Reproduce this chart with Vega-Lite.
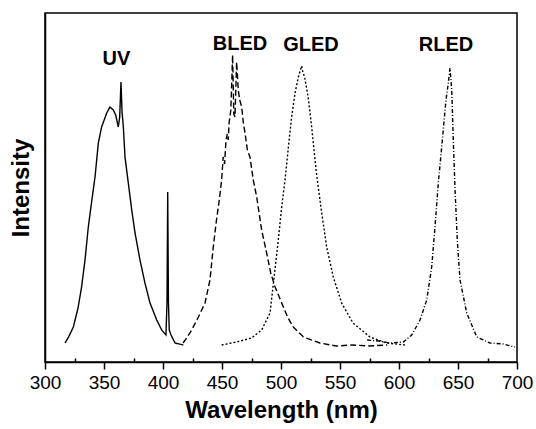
{
  "$schema": "https://vega.github.io/schema/vega-lite/v6.json",
  "width": 472,
  "height": 349,
  "autosize": {"type": "none"},
  "padding": {"left": 45, "top": 13, "right": 19, "bottom": 67},
  "background": "white",
  "config": {"view": {"stroke": "black", "strokeWidth": 1.5}, "font": "Liberation Sans"},
  "datasets": {
    "spectra": [
      {"series": "UV", "wl": 317, "inten": 19},
      {"series": "UV", "wl": 320, "inten": 25},
      {"series": "UV", "wl": 324, "inten": 35},
      {"series": "UV", "wl": 328, "inten": 54},
      {"series": "UV", "wl": 331, "inten": 75},
      {"series": "UV", "wl": 334, "inten": 103},
      {"series": "UV", "wl": 336.7, "inten": 135},
      {"series": "UV", "wl": 339.5, "inten": 160},
      {"series": "UV", "wl": 342.4, "inten": 185},
      {"series": "UV", "wl": 345.2, "inten": 219},
      {"series": "UV", "wl": 348, "inten": 235},
      {"series": "UV", "wl": 352.3, "inten": 249},
      {"series": "UV", "wl": 355, "inten": 255},
      {"series": "UV", "wl": 357.9, "inten": 252},
      {"series": "UV", "wl": 359.9, "inten": 247},
      {"series": "UV", "wl": 362.1, "inten": 235},
      {"series": "UV", "wl": 363.3, "inten": 245},
      {"series": "UV", "wl": 364.4, "inten": 280},
      {"series": "UV", "wl": 365.3, "inten": 250},
      {"series": "UV", "wl": 366.4, "inten": 235},
      {"series": "UV", "wl": 367.8, "inten": 205},
      {"series": "UV", "wl": 370.6, "inten": 179},
      {"series": "UV", "wl": 373.5, "inten": 152},
      {"series": "UV", "wl": 376.3, "inten": 129},
      {"series": "UV", "wl": 380.5, "inten": 102},
      {"series": "UV", "wl": 384.7, "inten": 79},
      {"series": "UV", "wl": 389, "inten": 59},
      {"series": "UV", "wl": 394.7, "inten": 42},
      {"series": "UV", "wl": 398.9, "inten": 32},
      {"series": "UV", "wl": 402.5, "inten": 27},
      {"series": "UV", "wl": 403.4, "inten": 60},
      {"series": "UV", "wl": 404, "inten": 170},
      {"series": "UV", "wl": 404.6, "inten": 60},
      {"series": "UV", "wl": 405.3, "inten": 32},
      {"series": "UV", "wl": 406.8, "inten": 27},
      {"series": "UV", "wl": 410.2, "inten": 19},
      {"series": "UV", "wl": 417.2, "inten": 17},
      {"series": "BLED", "wl": 417, "inten": 19},
      {"series": "BLED", "wl": 420, "inten": 24},
      {"series": "BLED", "wl": 424.3, "inten": 32},
      {"series": "BLED", "wl": 430, "inten": 45},
      {"series": "BLED", "wl": 435.6, "inten": 59},
      {"series": "BLED", "wl": 439.8, "inten": 82},
      {"series": "BLED", "wl": 442.6, "inten": 115},
      {"series": "BLED", "wl": 445, "inten": 139},
      {"series": "BLED", "wl": 447.7, "inten": 162},
      {"series": "BLED", "wl": 449.7, "inten": 182},
      {"series": "BLED", "wl": 451, "inten": 205},
      {"series": "BLED", "wl": 452.2, "inten": 198},
      {"series": "BLED", "wl": 453.4, "inten": 222},
      {"series": "BLED", "wl": 454.5, "inten": 228},
      {"series": "BLED", "wl": 455.3, "inten": 222},
      {"series": "BLED", "wl": 456, "inten": 239},
      {"series": "BLED", "wl": 457.5, "inten": 252},
      {"series": "BLED", "wl": 459, "inten": 307},
      {"series": "BLED", "wl": 460, "inten": 248},
      {"series": "BLED", "wl": 461, "inten": 245},
      {"series": "BLED", "wl": 462.4, "inten": 300},
      {"series": "BLED", "wl": 463.8, "inten": 272},
      {"series": "BLED", "wl": 465, "inten": 262},
      {"series": "BLED", "wl": 466.7, "inten": 255},
      {"series": "BLED", "wl": 468, "inten": 240},
      {"series": "BLED", "wl": 469.5, "inten": 229},
      {"series": "BLED", "wl": 471.5, "inten": 212},
      {"series": "BLED", "wl": 473.7, "inten": 205},
      {"series": "BLED", "wl": 476.5, "inten": 182},
      {"series": "BLED", "wl": 479.4, "inten": 165},
      {"series": "BLED", "wl": 483.6, "inten": 132},
      {"series": "BLED", "wl": 487.3, "inten": 112},
      {"series": "BLED", "wl": 491.3, "inten": 89},
      {"series": "BLED", "wl": 495, "inten": 75},
      {"series": "BLED", "wl": 502, "inten": 55},
      {"series": "BLED", "wl": 506, "inten": 44},
      {"series": "BLED", "wl": 510.4, "inten": 35},
      {"series": "BLED", "wl": 519, "inten": 25},
      {"series": "BLED", "wl": 533, "inten": 19},
      {"series": "BLED", "wl": 547, "inten": 16},
      {"series": "BLED", "wl": 560, "inten": 17},
      {"series": "BLED", "wl": 575, "inten": 16},
      {"series": "BLED", "wl": 590, "inten": 17},
      {"series": "GLED", "wl": 449.7, "inten": 17},
      {"series": "GLED", "wl": 462.4, "inten": 20},
      {"series": "GLED", "wl": 475, "inten": 24},
      {"series": "GLED", "wl": 483.6, "inten": 32},
      {"series": "GLED", "wl": 490.7, "inten": 49},
      {"series": "GLED", "wl": 493.5, "inten": 78},
      {"series": "GLED", "wl": 497.7, "inten": 122},
      {"series": "GLED", "wl": 500.6, "inten": 155},
      {"series": "GLED", "wl": 503.4, "inten": 182},
      {"series": "GLED", "wl": 506, "inten": 212},
      {"series": "GLED", "wl": 509, "inten": 245},
      {"series": "GLED", "wl": 511.9, "inten": 269},
      {"series": "GLED", "wl": 514.7, "inten": 285},
      {"series": "GLED", "wl": 516.5, "inten": 292},
      {"series": "GLED", "wl": 517.5, "inten": 296},
      {"series": "GLED", "wl": 518.5, "inten": 290},
      {"series": "GLED", "wl": 520, "inten": 285},
      {"series": "GLED", "wl": 523, "inten": 265},
      {"series": "GLED", "wl": 526, "inten": 235},
      {"series": "GLED", "wl": 530, "inten": 189},
      {"series": "GLED", "wl": 534.5, "inten": 149},
      {"series": "GLED", "wl": 538.7, "inten": 115},
      {"series": "GLED", "wl": 544.3, "inten": 85},
      {"series": "GLED", "wl": 551.4, "inten": 59},
      {"series": "GLED", "wl": 561, "inten": 39},
      {"series": "GLED", "wl": 575.4, "inten": 25},
      {"series": "GLED", "wl": 589.6, "inten": 19},
      {"series": "GLED", "wl": 605, "inten": 17},
      {"series": "RLED", "wl": 573, "inten": 22},
      {"series": "RLED", "wl": 583, "inten": 21},
      {"series": "RLED", "wl": 592, "inten": 19},
      {"series": "RLED", "wl": 603.7, "inten": 20},
      {"series": "RLED", "wl": 610.8, "inten": 27},
      {"series": "RLED", "wl": 617.8, "inten": 42},
      {"series": "RLED", "wl": 623.5, "inten": 62},
      {"series": "RLED", "wl": 627.7, "inten": 95},
      {"series": "RLED", "wl": 630.5, "inten": 135},
      {"series": "RLED", "wl": 633.3, "inten": 179},
      {"series": "RLED", "wl": 636.2, "inten": 215},
      {"series": "RLED", "wl": 639.8, "inten": 262},
      {"series": "RLED", "wl": 641.8, "inten": 279},
      {"series": "RLED", "wl": 643.2, "inten": 294},
      {"series": "RLED", "wl": 644.7, "inten": 272},
      {"series": "RLED", "wl": 646, "inten": 222},
      {"series": "RLED", "wl": 647.5, "inten": 172},
      {"series": "RLED", "wl": 649.4, "inten": 122},
      {"series": "RLED", "wl": 651.7, "inten": 82},
      {"series": "RLED", "wl": 657.4, "inten": 49},
      {"series": "RLED", "wl": 665.9, "inten": 25},
      {"series": "RLED", "wl": 677.1, "inten": 19},
      {"series": "RLED", "wl": 688.4, "inten": 18},
      {"series": "RLED", "wl": 698.3, "inten": 15}
    ],
    "labels": [
      {"label": "UV", "wl": 360.6, "inten": 297},
      {"label": "BLED", "wl": 465.3, "inten": 312},
      {"label": "GLED", "wl": 525.4, "inten": 311},
      {"label": "RLED", "wl": 639.8, "inten": 311}
    ]
  },
  "layer": [
    {
      "data": {"name": "spectra"},
      "mark": {"type": "line", "color": "black", "strokeWidth": 1.4},
      "encoding": {
        "x": {
          "field": "wl", "type": "quantitative",
          "scale": {"domain": [300, 700], "nice": false, "zero": false},
          "axis": {
            "values": [300, 350, 400, 450, 500, 550, 600, 650, 700],
            "tickSize": 7, "tickColor": "black", "tickWidth": 1.5,
            "domainColor": "black", "domainWidth": 1.5,
            "labelFontSize": 19, "labelColor": "black", "labelPadding": 4,
            "labelFlush": false, "grid": false,
            "title": "Wavelength (nm)", "titleFontSize": 24, "titleFontWeight": "bold",
            "titleColor": "black", "titlePadding": 6
          }
        },
        "y": {
          "field": "inten", "type": "quantitative",
          "scale": {"domain": [0, 349], "nice": false, "zero": false},
          "axis": {
            "labels": false, "ticks": false, "grid": false,
            "domainColor": "black", "domainWidth": 1.5,
            "title": "Intensity", "titleFontSize": 24, "titleFontWeight": "bold",
            "titleColor": "black", "titlePadding": 12
          }
        },
        "strokeDash": {
          "field": "series", "type": "nominal",
          "scale": {"domain": ["UV", "BLED", "GLED", "RLED"], "range": [[1, 0], [6, 3], [2, 2], [4, 2, 1, 2]]},
          "legend": null
        }
      }
    },
    {
      "data": {"name": "labels"},
      "mark": {"type": "text", "fontWeight": "bold", "fontSize": 20, "align": "center", "baseline": "alphabetic", "color": "black"},
      "encoding": {
        "x": {
          "field": "wl", "type": "quantitative",
          "scale": {"domain": [300, 700], "nice": false, "zero": false},
          "axis": {
            "values": [325, 375, 425, 475, 525, 575, 625, 675],
            "tickSize": -4, "tickColor": "black", "tickWidth": 1.5,
            "labels": false, "domain": false, "title": null, "grid": false, "orient": "bottom"
          }
        },
        "y": {"field": "inten", "type": "quantitative", "scale": {"domain": [0, 349], "nice": false, "zero": false}, "axis": null},
        "text": {"field": "label"}
      }
    }
  ],
  "resolve": {"axis": {"x": "independent", "y": "independent"}}
}
